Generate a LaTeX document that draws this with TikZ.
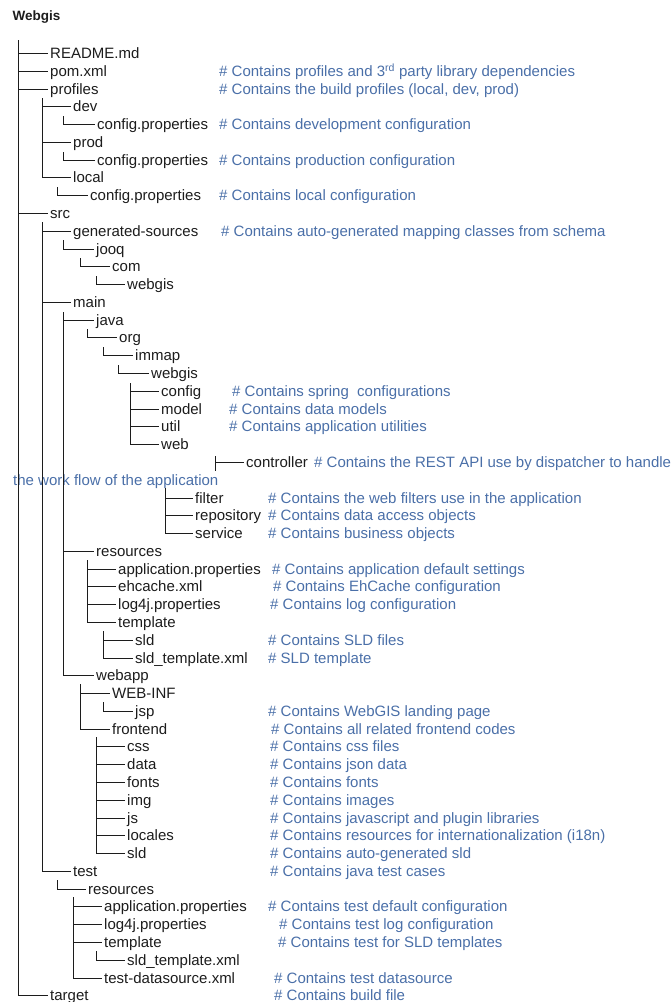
\documentclass[tikz,border=0pt]{standalone}
\usepackage{fontspec}
\setmainfont{Liberation Sans}
\newfontfamily\treefont{Liberation Sans}
\definecolor{ink}{HTML}{1C1C1C}
\definecolor{noteblue}{HTML}{4A6FA8}
\begin{document}
\begin{tikzpicture}[x=1pt,y=-1pt,
  item/.style={anchor=west, inner xsep=2.5pt, inner ysep=0pt,
    text height=10.5pt, text depth=0pt, text=ink,
    font=\treefont\fontsize{15pt}{17pt}\selectfont},
  note/.style={item, text=noteblue},
  branch/.style={draw=ink, line width=1.5pt}]
\useasboundingbox (0,0) rectangle (672,1002);

% title
\node[anchor=west, inner sep=0pt, text=ink, font=\treefont\bfseries\fontsize{13.5pt}{15pt}\selectfont] (title) at (12.5,17) {Webgis};

% ---------- entries ----------
\node[item] (readme)   at (47.5,53.5)   {README.md};
\node[item] (pom)      at (47.5,71.5)   {pom.xml};
\node[item] (profiles) at (47.5,89.5)   {profiles};
\node[item] (dev)      at (70.5,106.5)  {dev};
\node[item] (devcfg)   at (94.5,124.5)  {config.properties};
\node[item] (prod)     at (70.5,142.5)  {prod};
\node[item] (prodcfg)  at (94.5,160.5)  {config.properties};
\node[item] (local)    at (70.5,177.5)  {local};
\node[item] (localcfg) at (87.5,195.5)  {config.properties};
\node[item] (src)      at (47.5,213.5)  {src};
\node[item] (gen)      at (70.5,231.5)  {generated-sources};
\node[item] (jooq)     at (93.5,249.5)  {jooq};
\node[item] (com)      at (109.5,266.5) {com};
\node[item] (gwebgis)  at (124.5,284.5) {webgis};
\node[item] (main)     at (70.5,302.5)  {main};
\node[item] (java)     at (93.5,320.5)  {java};
\node[item] (org)      at (116.5,337.5) {org};
\node[item] (immap)    at (132.5,355.5) {immap};
\node[item] (jwebgis)  at (148.5,373.5) {webgis};
\node[item] (config)   at (158.5,391.5) {config};
\node[item] (model)    at (158.5,409.5) {model};
\node[item] (util)     at (158.5,426.5) {util};
\node[item] (web)      at (158.5,444.5) {web};
\node[item] (ctrl)     at (243.5,462.5) {controller};
\node[item] (filter)   at (192.5,498.5) {filter};
\node[item] (repo)     at (192.5,515.5) {repository};
\node[item] (service)  at (192.5,533.5) {service};
\node[item] (mres)     at (93.5,551.5)  {resources};
\node[item] (mapp)     at (115.5,569.5) {application.properties};
\node[item] (ehcache)  at (115.5,586.5) {ehcache.xml};
\node[item] (mlog)     at (115.5,604.5) {log4j.properties};
\node[item] (mtpl)     at (115.5,622.5) {template};
\node[item] (msld)     at (132.5,640.5) {sld};
\node[item] (msldt)    at (132.5,658.5) {sld\_template.xml};
\node[item] (webapp)   at (93.5,675.5)  {webapp};
\node[item] (webinf)   at (109.5,693.5) {WEB-INF};
\node[item] (jsp)      at (132.5,711.5) {jsp};
\node[item] (frontend) at (109.5,729.5) {frontend};
\node[item] (css)      at (124.5,746.5) {css};
\node[item] (data)     at (124.5,764.5) {data};
\node[item] (fonts)    at (124.5,782.5) {fonts};
\node[item] (img)      at (124.5,800.5) {img};
\node[item] (js)       at (124.5,818.5) {js};
\node[item] (locales)  at (124.5,835.5) {locales};
\node[item] (fsld)     at (124.5,853.5) {sld};
\node[item] (test)     at (70.5,871.5)  {test};
\node[item] (tres)     at (85.5,889.5)  {resources};
\node[item] (tapp)     at (101.5,906.5) {application.properties};
\node[item] (tlog)     at (101.5,924.5) {log4j.properties};
\node[item] (ttpl)     at (101.5,942.5) {template};
\node[item] (tsldt)    at (124.5,960.5) {sld\_template.xml};
\node[item] (tds)      at (101.5,978.5) {test-datasource.xml};
\node[item] (target)   at (47.5,995.5)  {target};

% ---------- comments ----------
\node[note] (n-pom)      at (216.5,71.5)  {\# Contains profiles and 3\textsuperscript{rd} party library dependencies};
\node[note] (n-profiles) at (216.5,89.5)  {\# Contains the build profiles (local, dev, prod)};
\node[note] (n-devcfg)   at (216.5,124.5) {\# Contains development configuration};
\node[note] (n-prodcfg)  at (216.5,160.5) {\# Contains production configuration};
\node[note] (n-localcfg) at (216.5,195.5) {\# Contains local configuration};
\node[note] (n-gen)      at (218.5,231.5) {\# Contains auto-generated mapping classes from schema};
\node[note] (n-config)   at (229.5,391.5) {\# Contains spring\ \ configurations};
\node[note] (n-model)    at (226.5,409.5) {\# Contains data models};
\node[note] (n-util)     at (226.5,426.5) {\# Contains application utilities};
\node[note] (n-ctrl)     at (311.5,462.5) {\# Contains the REST API use by dispatcher to handle};
\node[note] (n-flow)     at (10.5,480.5)  {the work flow of the application};
\node[note] (n-filter)   at (265.5,498.5) {\# Contains the web filters use in the application};
\node[note] (n-repo)     at (265.5,515.5) {\# Contains data access objects};
\node[note] (n-service)  at (265.5,533.5) {\# Contains business objects};
\node[note] (n-mapp)     at (269.5,569.5) {\# Contains application default settings};
\node[note] (n-ehcache)  at (270.5,586.5) {\# Contains EhCache configuration};
\node[note] (n-mlog)     at (267.5,604.5) {\# Contains log configuration};
\node[note] (n-msld)     at (265.5,640.5) {\# Contains SLD files};
\node[note] (n-msldt)    at (265.5,658.5) {\# SLD template};
\node[note] (n-jsp)      at (265.5,711.5) {\# Contains WebGIS landing page};
\node[note] (n-frontend) at (268.5,729.5) {\# Contains all related frontend codes};
\node[note] (n-css)      at (267.5,746.5) {\# Contains css files};
\node[note] (n-data)     at (267.5,764.5) {\# Contains json data};
\node[note] (n-fonts)    at (267.5,782.5) {\# Contains fonts};
\node[note] (n-img)      at (267.5,800.5) {\# Contains images};
\node[note] (n-js)       at (267.5,818.5) {\# Contains javascript and plugin libraries};
\node[note] (n-locales)  at (267.5,835.5) {\# Contains resources for internationalization (i18n)};
\node[note] (n-fsld)     at (267.5,853.5) {\# Contains auto-generated sld};
\node[note] (n-test)     at (267.5,871.5) {\# Contains java test cases};
\node[note] (n-tapp)     at (265.5,906.5) {\# Contains test default configuration};
\node[note] (n-tlog)     at (276.5,924.5) {\# Contains test log configuration};
\node[note] (n-ttpl)     at (275.5,942.5) {\# Contains test for SLD templates};
\node[note] (n-tds)      at (271.5,978.5) {\# Contains test datasource};
\node[note] (n-target)   at (271.5,995.5) {\# Contains build file};

% ---------- tree lines: top of each vertical rail ----------
\coordinate (r-root)     at (18.5,40);
\coordinate (r-profiles) at (42.5,98);
\coordinate (r-dev)      at (63.5,116);
\coordinate (r-prod)     at (63.5,152);
\coordinate (r-local)    at (57.5,187);
\coordinate (r-src)      at (42.5,222);
\coordinate (r-gen)      at (63.5,240);
\coordinate (r-jooq)     at (80.5,258);
\coordinate (r-com)      at (96.5,276);
\coordinate (r-main)     at (63.5,312);
\coordinate (r-java)     at (87.5,329);
\coordinate (r-org)      at (103.5,347);
\coordinate (r-immap)    at (118.5,365);
\coordinate (r-webgis)   at (130.5,383);
\coordinate (r-web)      at (215.5,456);
\coordinate (r-webend)   at (215.5,471);
\coordinate (r-filter)   at (165.5,488);
\coordinate (r-mres)     at (87.5,560);
\coordinate (r-mtpl)     at (103.5,631);
\coordinate (r-webapp)   at (80.5,684);
\coordinate (r-webinf)   at (103.5,702);
\coordinate (r-frontend) at (96.5,737);
\coordinate (r-test)     at (57.5,880);
\coordinate (r-tres)     at (73.5,897);
\coordinate (r-ttpl)     at (96.5,951);

\draw[branch] (r-root) |- (readme.west) (r-root) |- (pom.west)
  (r-root) |- (profiles.west) (r-root) |- (src.west) (r-root) |- (target.west);
\draw[branch] (r-profiles) |- (dev.west) (r-profiles) |- (prod.west) (r-profiles) |- (local.west);
\draw[branch] (r-dev) |- (devcfg.west);
\draw[branch] (r-prod) |- (prodcfg.west);
\draw[branch] (r-local) |- (localcfg.west);
\draw[branch] (r-src) |- (gen.west) (r-src) |- (main.west) (r-src) |- (test.west);
\draw[branch] (r-gen) |- (jooq.west);
\draw[branch] (r-jooq) |- (com.west);
\draw[branch] (r-com) |- (gwebgis.west);
\draw[branch] (r-main) |- (java.west) (r-main) |- (mres.west) (r-main) |- (webapp.west);
\draw[branch] (r-java) |- (org.west);
\draw[branch] (r-org) |- (immap.west);
\draw[branch] (r-immap) |- (jwebgis.west);
\draw[branch] (r-webgis) |- (config.west) (r-webgis) |- (model.west)
  (r-webgis) |- (util.west) (r-webgis) |- (web.west);
\draw[branch] (r-web) -- (r-webend) (r-web) |- (ctrl.west);
\draw[branch] (r-filter) |- (filter.west) (r-filter) |- (repo.west) (r-filter) |- (service.west);
\draw[branch] (r-mres) |- (mapp.west) (r-mres) |- (ehcache.west)
  (r-mres) |- (mlog.west) (r-mres) |- (mtpl.west);
\draw[branch] (r-mtpl) |- (msld.west) (r-mtpl) |- (msldt.west);
\draw[branch] (r-webapp) |- (webinf.west) (r-webapp) |- (frontend.west);
\draw[branch] (r-webinf) |- (jsp.west);
\draw[branch] (r-frontend) |- (css.west) (r-frontend) |- (data.west) (r-frontend) |- (fonts.west)
  (r-frontend) |- (img.west) (r-frontend) |- (js.west) (r-frontend) |- (locales.west)
  (r-frontend) |- (fsld.west);
\draw[branch] (r-test) |- (tres.west);
\draw[branch] (r-tres) |- (tapp.west) (r-tres) |- (tlog.west)
  (r-tres) |- (ttpl.west) (r-tres) |- (tds.west);
\draw[branch] (r-ttpl) |- (tsldt.west);
\end{tikzpicture}
\end{document}
